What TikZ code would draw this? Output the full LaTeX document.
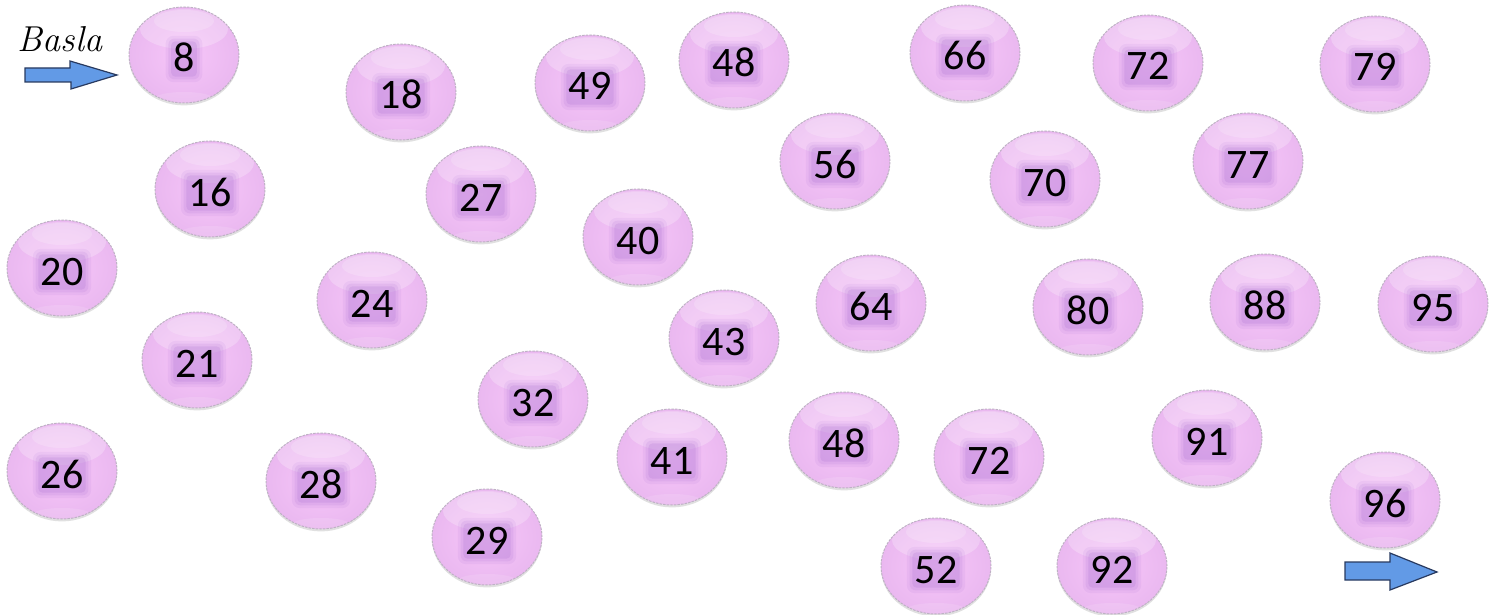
\documentclass[tikz,border=0pt]{standalone}
\usepackage{fontspec}
\newfontfamily\numfont{Carlito}
\usetikzlibrary{shapes.geometric,shadows}
\definecolor{bubIn}{RGB}{247,198,249}
\definecolor{bubOut}{RGB}{234,184,240}
\definecolor{bubRim}{RGB}{190,178,196}
\definecolor{haloA}{RGB}{160,100,204}
\definecolor{arrBlue}{RGB}{98,154,230}
\definecolor{arrEdge}{RGB}{40,58,96}
\def\glowhw{10.8pt}
\tikzset{
 bub/.style={ellipse, minimum width=55pt, minimum height=48pt, inner sep=0pt,
   draw=bubRim, line width=0.5pt, dash pattern=on 1.2pt off 0.6pt,
   inner color=bubIn, outer color=bubOut,
   drop shadow={shadow xshift=0pt, shadow yshift=-1.2pt, opacity=0.2, fill=black!60},
   text height=17pt, text depth=0pt,
   font=\numfont\fontsize{21pt}{21pt}\selectfont,
   path picture={
     \fill[white,opacity=0.24] ([yshift=-11pt]path picture bounding box.north) ellipse [x radius=22pt, y radius=10pt];
     \fill[white,opacity=0.18] ([yshift=-7pt]path picture bounding box.north) ellipse [x radius=15pt, y radius=5.5pt];
     \fill[white,opacity=0.12] ([yshift=2pt]path picture bounding box.south) ellipse [x radius=15pt, y radius=3.5pt];
     \fill[haloA,opacity=0.09,rounded corners=4pt]
       ([xshift=-\glowhw-3.8pt,yshift=-13.6pt]path picture bounding box.center) rectangle
       ([xshift=\glowhw+3.8pt,yshift=9.6pt]path picture bounding box.center);
     \fill[haloA,opacity=0.13,rounded corners=3pt]
       ([xshift=-\glowhw-2.4pt,yshift=-12.2pt]path picture bounding box.center) rectangle
       ([xshift=\glowhw+2.4pt,yshift=8.2pt]path picture bounding box.center);
     \fill[haloA,opacity=0.18,rounded corners=2pt]
       ([xshift=-\glowhw-1pt,yshift=-10.8pt]path picture bounding box.center) rectangle
       ([xshift=\glowhw+1pt,yshift=6.8pt]path picture bounding box.center);
   }},
 blockarrow/.style={fill=arrBlue, draw=arrEdge, line width=0.6pt, line join=miter}
}
\newcommand\bubble[3]{\node[bub] (#1) at (#2) {#3};}
\begin{document}
\begin{tikzpicture}[x=0.5pt,y=-0.5pt]
\useasboundingbox (0,0) rectangle (1499,615);
\def\glowhw{5.4pt}
\bubble{n8}{184,55}{8}
\def\glowhw{10.8pt}
\bubble{n18}{401,92}{18}
\bubble{n49}{590,83}{49}
\bubble{n48a}{734,60}{48}
\bubble{n66}{965,53}{66}
\bubble{n72a}{1148,63}{72}
\bubble{n79}{1375,64}{79}
\bubble{n16}{210,189}{16}
\bubble{n27}{481,194}{27}
\bubble{n56}{835,161}{56}
\bubble{n70}{1045,179}{70}
\bubble{n77}{1248,161}{77}
\bubble{n40}{638,237}{40}
\bubble{n20}{62,268}{20}
\bubble{n24}{372,300}{24}
\bubble{n64}{871,303}{64}
\bubble{n80}{1088,307}{80}
\bubble{n88}{1265,302}{88}
\bubble{n95}{1433,304}{95}
\bubble{n43}{724,338}{43}
\bubble{n21}{197,360}{21}
\bubble{n32}{533,399}{32}
\bubble{n48b}{844,440}{48}
\bubble{n72b}{989,457}{72}
\bubble{n91}{1207,438}{91}
\bubble{n41}{672,457}{41}
\bubble{n26}{62,471}{26}
\bubble{n28}{321,481}{28}
\bubble{n96}{1385,500}{96}
\bubble{n29}{487,537}{29}
\bubble{n52}{936,566}{52}
\bubble{n92}{1112,566}{92}
\node[inner sep=0pt] (basla) at (60,39) {\itshape\fontsize{18pt}{18pt}\selectfont Basla};
\draw[blockarrow] (25,68) -- (70,68) -- (70,61) -- (117,75) -- (71,89) -- (71,82) -- (25,82) -- cycle;
\draw[blockarrow] (1345,562) -- (1390,562) -- (1390,553) -- (1437,572) -- (1390,590) -- (1390,580) -- (1345,580) -- cycle;
\end{tikzpicture}
\end{document}
